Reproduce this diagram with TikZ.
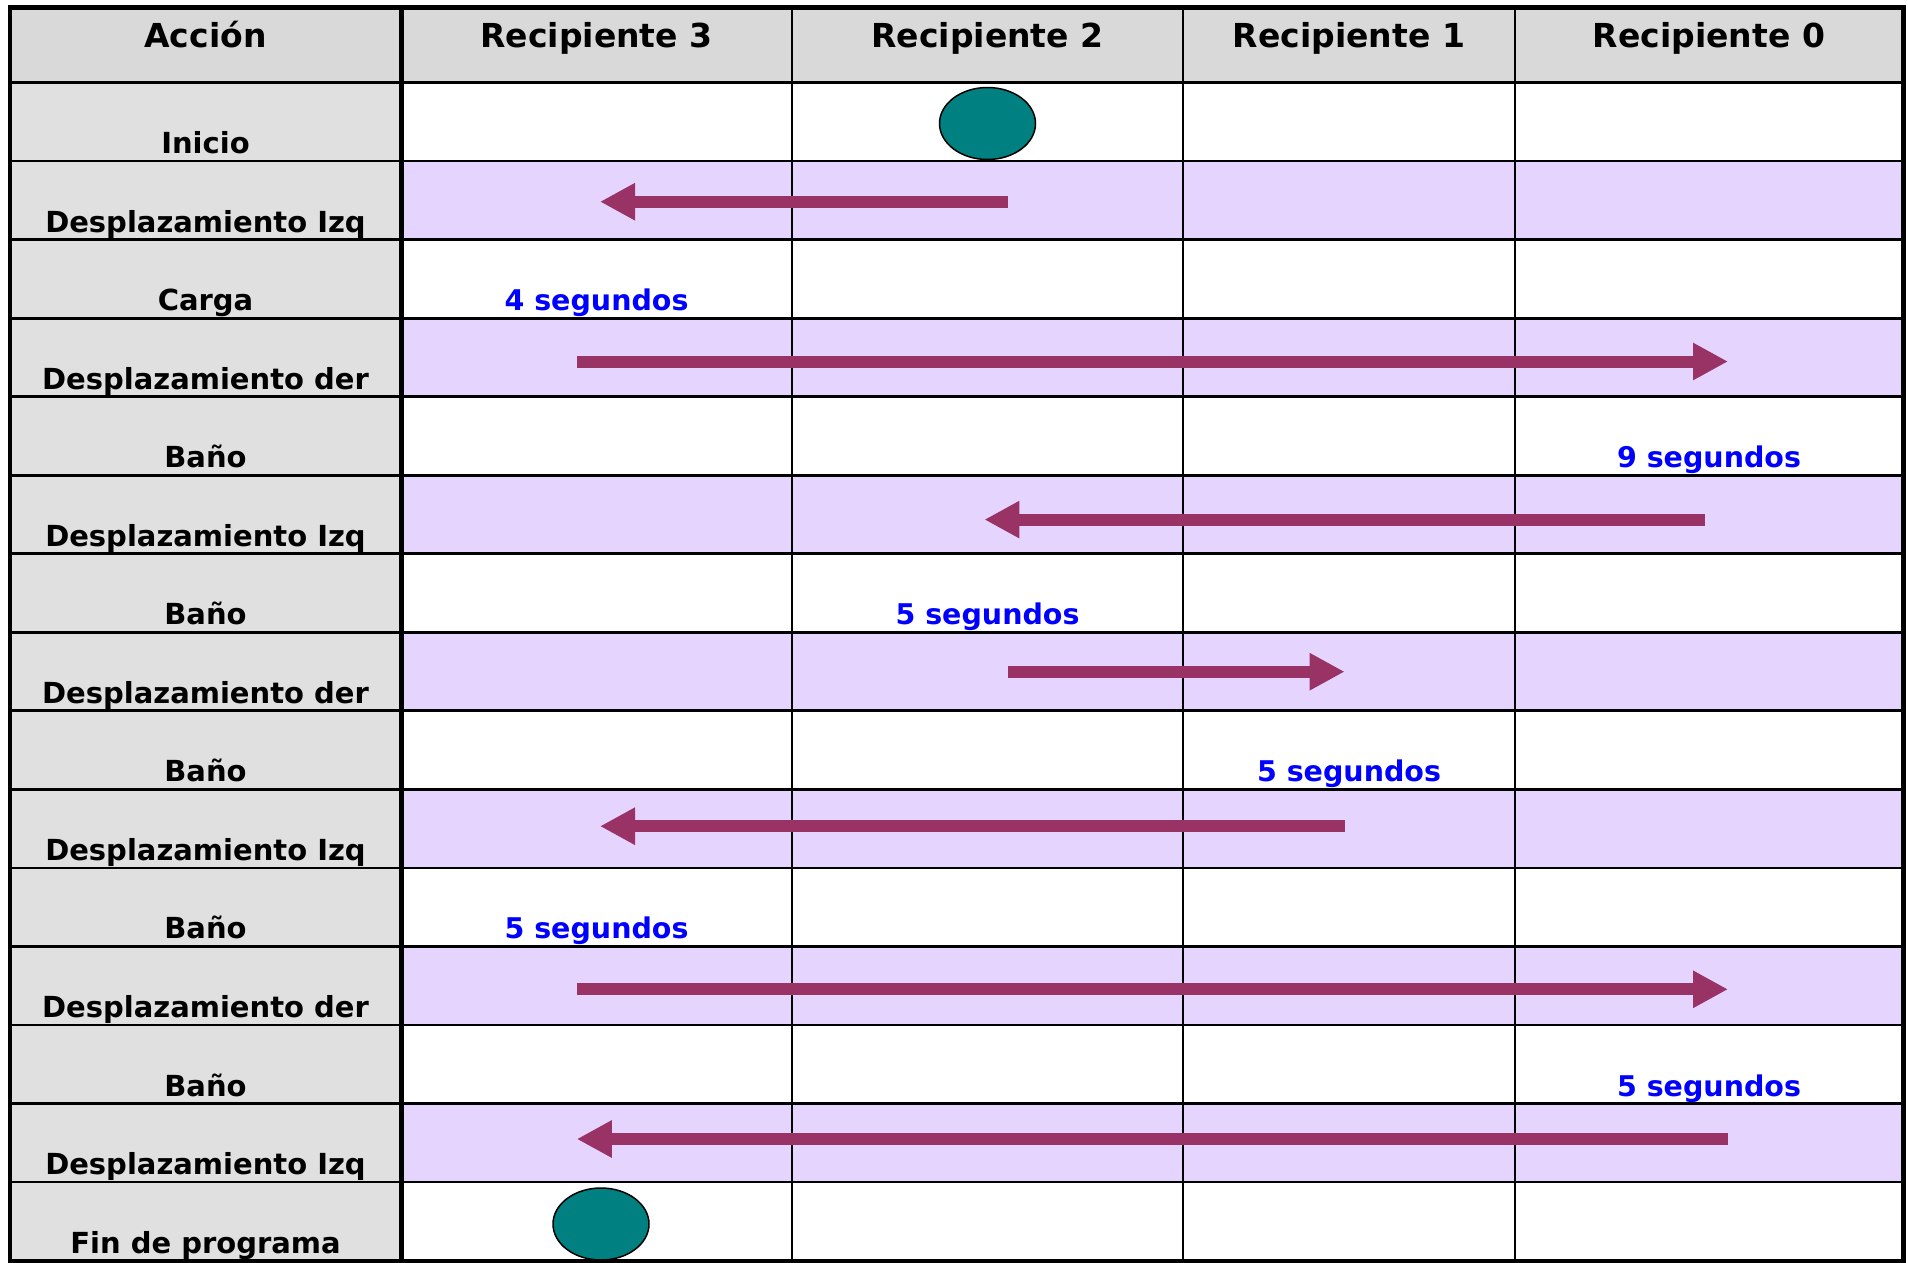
\documentclass[tikz,border=0pt]{standalone}
\usepackage{fontspec}
\setmainfont{DejaVu Sans}
\usetikzlibrary{arrows.meta,shapes.geometric}
\definecolor{hdrgray}{HTML}{D9D9D9}
\definecolor{colgray}{HTML}{E0E0E0}
\definecolor{rowpurple}{HTML}{E5D5FE}
\definecolor{plum}{HTML}{993366}
\definecolor{tealc}{HTML}{008080}
\definecolor{segblue}{HTML}{0000FF}
\begin{document}
\begin{tikzpicture}[x=1pt,y=-1pt,
  hdr/.style={anchor=base,inner sep=0pt,font=\fontsize{33}{39}\selectfont\bfseries},
  lbl/.style={anchor=base,inner sep=0pt,font=\fontsize{29}{35}\selectfont\bfseries},
  seg/.style={anchor=base,inner sep=0pt,text=segblue,font=\fontsize{28.5}{34}\selectfont\bfseries},
  marker/.style={ellipse,draw=black,line width=1.5pt,fill=tealc,minimum width=96pt,minimum height=72pt,inner sep=0pt},
  flow/.style={draw=plum,line width=12pt,-{Triangle[length=35pt,width=35pt]}},
  grid/.style={line width=2.8pt,black}]
\useasboundingbox (0,0) rectangle (1908,1263);
% backgrounds
\fill[hdrgray] (10,7.5) rectangle (1903.5,82.5);
\fill[colgray] (10,82.5) rectangle (401,1261);
\foreach \k in {2,4,...,14}{
  \fill[rowpurple] (401,{82.5+78.54*(\k-1)}) rectangle (1903.5,{82.5+78.54*\k});
}
% grid
\foreach \k in {0,...,14}{
  \draw[grid] (10,{82.5+78.54*\k}) -- (1903.5,{82.5+78.54*\k});
}
\foreach \xx in {792,1183,1515}{
  \draw[grid] (\xx,7.5) -- (\xx,1261);
}
\draw[line width=5pt] (401,7.5) -- (401,1261);
\draw[line width=4.5pt] (10,7.5) rectangle (1903.5,1261);
% header
\node[hdr] (hA) at (205.5,48) {Acción};
\node[hdr] (h3) at (596.5,48) {Recipiente 3};
\node[hdr] (h2) at (987.5,48) {Recipiente 2};
\node[hdr] (h1) at (1349,48) {Recipiente 1};
\node[hdr] (h0) at (1709,48) {Recipiente 0};
% row labels
\foreach \k/\t in {1/Inicio,2/Desplazamiento Izq,3/Carga,4/Desplazamiento der,5/Baño,6/Desplazamiento Izq,7/Baño,8/Desplazamiento der,9/Baño,10/Desplazamiento Izq,11/Baño,12/Desplazamiento der,13/Baño,14/Desplazamiento Izq,15/Fin de programa}{
  \node[lbl] (L\k) at (205.5,{82.5+78.54*\k-7.5}) {\t};
}
% durations
\node[seg] (s3) at (596.5,{82.5+78.54*3-7.5}) {4 segundos};
\node[seg] (s5) at (1709,{82.5+78.54*5-7.5}) {9 segundos};
\node[seg] (s7) at (987.5,{82.5+78.54*7-7.5}) {5 segundos};
\node[seg] (s9) at (1349,{82.5+78.54*9-7.5}) {5 segundos};
\node[seg] (s11) at (596.5,{82.5+78.54*11-7.5}) {5 segundos};
\node[seg] (s13) at (1709,{82.5+78.54*13-7.5}) {5 segundos};
% start / end markers
\node[marker] (inicio) at (987.5,123.5) {};
\node[marker] (fin) at (601,1224) {};
% movement arrows
\coordinate (a1s) at (1007.5,201.7);  \coordinate (a1e) at (600,201.7);
\coordinate (a2s) at (577,361.5);     \coordinate (a2e) at (1728,361.5);
\coordinate (a3s) at (1704.7,519.6);  \coordinate (a3e) at (984.4,519.6);
\coordinate (a4s) at (1007.5,671.7);  \coordinate (a4e) at (1344.6,671.7);
\coordinate (a5s) at (1344.6,826.2);  \coordinate (a5e) at (600,826.2);
\coordinate (a6s) at (577,989.3);     \coordinate (a6e) at (1728,989.3);
\coordinate (a7s) at (1727.8,1139);   \coordinate (a7e) at (576.8,1139);
\draw[flow] (a1s) -- (a1e);
\draw[flow] (a2s) -- (a2e);
\draw[flow] (a3s) -- (a3e);
\draw[flow] (a4s) -- (a4e);
\draw[flow] (a5s) -- (a5e);
\draw[flow] (a6s) -- (a6e);
\draw[flow] (a7s) -- (a7e);
\end{tikzpicture}
\end{document}
